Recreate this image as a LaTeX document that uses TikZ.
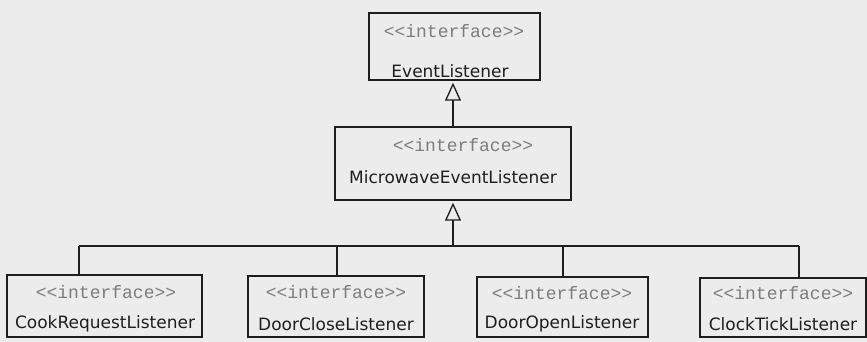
\documentclass[tikz,border=0pt]{standalone}
\usepackage{fontspec}
\setmainfont{DejaVu Sans}
\newfontfamily\monof{Liberation Mono}
\usetikzlibrary{arrows.meta}
\definecolor{bg}{RGB}{236,236,236}
\definecolor{ln}{RGB}{30,30,30}
\definecolor{stereo}{RGB}{125,125,125}
\begin{document}
\begin{tikzpicture}[x=1pt,y=-1pt,
  box/.style={draw=ln,line width=1.4pt,rectangle,inner sep=0pt},
  stereotxt/.style={font=\monof\fontsize{18}{19}\selectfont,text=stereo,inner sep=0pt,anchor=center},
  nametxt/.style={font=\fontsize{17}{18}\selectfont,text=ln,inner sep=0pt,anchor=center},
  conn/.style={draw=ln,line width=1.3pt},
  inh/.style={conn,-{Triangle[open,length=18pt,width=16pt,fill=bg,line width=1.3pt]}}]
\fill[bg] (0,0) rectangle (867,342);
\useasboundingbox (0,0) rectangle (867,342);
% boxes
\node[box,minimum width=171pt,minimum height=67pt] (el) at (454.5,46.5) {};
\node[box,minimum width=236pt,minimum height=73pt] (mel) at (453,163.5) {};
\node[box,minimum width=195pt,minimum height=62pt] (cook) at (104.5,306) {};
\node[box,minimum width=176pt,minimum height=61pt] (dc) at (336,306.5) {};
\node[box,minimum width=171pt,minimum height=60pt] (do) at (562.5,307) {};
\node[box,minimum width=166pt,minimum height=59pt] (ct) at (783,307.5) {};
% labels
\node[stereotxt] (elS) at (454,31) {<<interface>>};
\node[nametxt] (elN) at (450,71) {EventListener};
\node[stereotxt] (melS) at (463,145) {<<interface>>};
\node[nametxt] (melN) at (453,177) {MicrowaveEventListener};
\node[stereotxt] (cookS) at (106,292) {<<interface>>};
\node[nametxt] (cookN) at (105,324) {CookRequestListener};
\node[stereotxt] (dcS) at (336,292) {<<interface>>};
\node[nametxt] (dcN) at (336,324) {DoorCloseListener};
\node[stereotxt] (doS) at (562,293) {<<interface>>};
\node[nametxt] (doN) at (562,324) {DoorOpenListener};
\node[stereotxt] (ctS) at (783,293) {<<interface>>};
\node[nametxt] (ctN) at (783,324) {ClockTickListener};
% connectors
\coordinate (b1) at (79,246);
\coordinate (b2) at (337,246);
\coordinate (b3) at (563,246);
\coordinate (b4) at (799,246);
\coordinate (bm) at (453,246);
\draw[inh,shorten >=2pt] (mel.north) -- (mel.north |- el.south);
\draw[inh,shorten >=2pt] (bm) -- (mel.south);
\draw[conn] (b1) -- (b4);
\draw[conn] (b1) -- (b1 |- cook.north);
\draw[conn] (b2) -- (b2 |- dc.north);
\draw[conn] (b3) -- (b3 |- do.north);
\draw[conn] (b4) -- (b4 |- ct.north);
\end{tikzpicture}
\end{document}
